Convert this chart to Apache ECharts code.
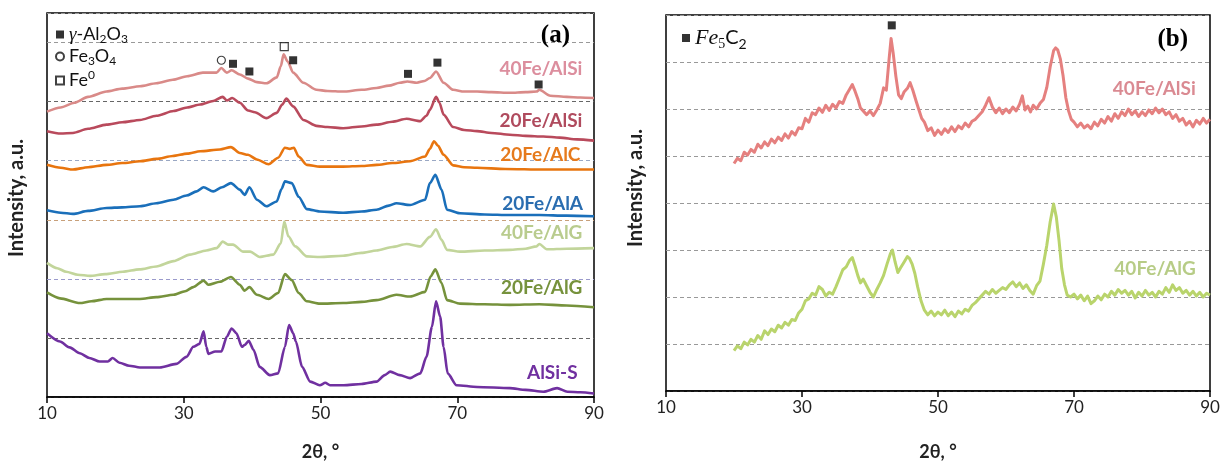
<!DOCTYPE html>
<html>
<head>
<meta charset="utf-8">
<title>XRD patterns</title>
<script src="https://cdn.jsdelivr.net/npm/echarts@6/dist/echarts.min.js"></script>
<style>
  html, body { margin: 0; padding: 0; background: #fff; }
  #chart { width: 1223px; height: 472px; }
</style>
</head>
<body>
<div id="chart"></div>
<script>
// ---- Data: 2θ (deg) vs. offset intensity (a.u.) ----
const xTicks = [10, 30, 50, 70, 90];

// Panel (a)
const s40FeAlSi = [[10,4.83],[12,4.90],[14,4.98],[16,5.08],[18.7,5.17],[21,5.22],[23.6,5.26],[26,5.31],[28.4,5.37],[30.5,5.43],[32.8,5.49],[34.8,5.49],[35.5,5.57],[36.3,5.49],[37.0,5.53],[38.2,5.46],[39.4,5.39],[40.7,5.33],[42.1,5.31],[43.6,5.41],[44.2,5.60],[44.6,5.80],[45.2,5.68],[46.0,5.49],[47.5,5.32],[49.4,5.20],[51,5.18],[53.3,5.17],[56,5.20],[58.2,5.23],[60,5.27],[61.6,5.32],[62.7,5.34],[64.1,5.32],[65.2,5.35],[66.0,5.40],[66.9,5.51],[68.0,5.32],[69.4,5.20],[71,5.17],[72.9,5.17],[75,5.16],[77.7,5.15],[80,5.16],[81.6,5.17],[82.0,5.20],[83.6,5.10],[86,5.08],[88,5.07],[90,5.06]];
const s20FeAlSi = [[10,4.50],[12,4.46],[13.8,4.47],[16,4.54],[18.7,4.61],[21,4.65],[23.6,4.69],[26,4.76],[28.5,4.84],[30.5,4.90],[32.4,4.95],[34.3,5.01],[35.7,5.08],[36.3,5.02],[37.1,5.06],[38.2,4.98],[39.4,4.85],[40.4,4.82],[42.1,4.72],[43.6,4.81],[44.4,4.95],[45.0,5.05],[46.0,4.92],[47.5,4.69],[49.4,4.59],[51,4.57],[53.3,4.55],[56,4.58],[58.2,4.61],[60.5,4.66],[62.6,4.71],[64.6,4.67],[65.5,4.76],[66.0,4.86],[66.9,5.08],[67.4,4.98],[68.0,4.78],[69.4,4.57],[71,4.52],[72.9,4.50],[75,4.47],[77.7,4.44],[80,4.42],[82.6,4.41],[85,4.39],[87.5,4.36],[90,4.34]];
const s20FeAlC = [[10,3.93],[12,3.88],[13.8,3.85],[16,3.89],[18.7,3.93],[21,3.96],[23.6,3.99],[26,4.03],[28.4,4.08],[30.5,4.12],[32.4,4.16],[35.3,4.19],[36.9,4.23],[38.2,4.13],[39.4,4.10],[40.7,4.02],[42.4,3.94],[43.8,4.05],[44.8,4.22],[45.5,4.20],[46.1,4.22],[46.8,4.07],[48.0,3.93],[49.9,3.90],[53.3,3.90],[56,3.91],[58.2,3.93],[60.5,3.96],[63.1,3.99],[65.3,4.07],[66.0,4.20],[66.6,4.33],[67.2,4.25],[68.0,4.10],[69.4,3.92],[71,3.89],[72.9,3.88],[77,3.86],[82.6,3.85],[86,3.85],[90,3.85]];
const s20FeAlA = [[10,3.16],[12,3.12],[13.8,3.10],[16,3.15],[18.7,3.20],[21,3.21],[23.6,3.23],[26,3.28],[28.5,3.34],[30.4,3.41],[31.9,3.48],[32.9,3.55],[34.3,3.48],[35.6,3.55],[36.9,3.62],[38.2,3.51],[38.9,3.42],[39.6,3.55],[40.7,3.34],[42.1,3.23],[43.6,3.31],[44.3,3.52],[44.8,3.65],[45.8,3.62],[46.8,3.39],[48.0,3.18],[49.9,3.14],[53.3,3.12],[56,3.14],[58.2,3.17],[60,3.24],[61.1,3.28],[63.1,3.25],[65.3,3.34],[66.0,3.62],[66.8,3.76],[67.7,3.51],[68.5,3.17],[70.4,3.11],[74,3.09],[77.7,3.08],[82,3.08],[86,3.07],[90,3.06]];
const s40FeAlG = [[10,2.27],[11.5,2.18],[12.8,2.12],[14.5,2.07],[16.3,2.05],[18.5,2.08],[21.1,2.12],[23.5,2.16],[26.0,2.21],[28.5,2.30],[30.9,2.41],[33.3,2.48],[34.8,2.52],[35.7,2.63],[36.5,2.58],[37.2,2.58],[38.7,2.46],[39.7,2.46],[41.1,2.37],[43.1,2.41],[44.2,2.60],[44.7,2.97],[45.3,2.72],[46.3,2.55],[48.0,2.38],[49.9,2.37],[53.3,2.39],[56,2.44],[58.2,2.48],[60.5,2.54],[62.6,2.59],[64.6,2.55],[66.0,2.71],[66.9,2.84],[67.7,2.66],[68.5,2.49],[70.4,2.46],[74,2.48],[77.7,2.49],[80,2.51],[81.6,2.55],[82.0,2.59],[83.1,2.50],[86,2.51],[90,2.52]];
const s20FeAlG = [[10,1.77],[11.9,1.67],[14.8,1.59],[16.5,1.62],[18.7,1.66],[21,1.66],[23.6,1.66],[26,1.69],[28.5,1.73],[30.2,1.79],[31.4,1.86],[32.9,1.97],[33.6,1.90],[35.3,1.95],[36.9,2.03],[38.2,1.90],[38.9,1.80],[39.6,1.86],[40.7,1.73],[42.4,1.66],[43.8,1.76],[44.8,2.08],[45.8,1.98],[46.8,1.76],[48.0,1.62],[49.9,1.58],[53.3,1.59],[56,1.61],[58.2,1.64],[61.1,1.73],[63.1,1.70],[65.3,1.78],[66.1,2.04],[66.8,2.16],[67.7,1.93],[68.5,1.64],[70.4,1.58],[74,1.57],[77.7,1.56],[82,1.57],[86,1.55],[90,1.52]];
const sAlSiS = [[10,1.08],[11.9,0.94],[13.3,0.84],[14.8,0.74],[16.2,0.66],[17.7,0.60],[18.9,0.60],[19.6,0.66],[20.6,0.58],[22,0.53],[23.6,0.50],[26.5,0.50],[28.9,0.56],[30.4,0.68],[31.4,0.85],[32.3,0.90],[32.9,1.11],[33.3,0.85],[33.6,0.73],[34.6,0.77],[35.5,0.77],[36.3,1.02],[37.0,1.16],[37.7,1.08],[38.5,0.85],[38.9,0.88],[39.5,0.95],[40.2,0.80],[41.1,0.51],[42.6,0.37],[43.8,0.40],[44.8,0.85],[45.4,1.22],[46.0,1.08],[46.4,0.94],[47.3,0.51],[48.5,0.26],[49.9,0.20],[50.7,0.24],[51.4,0.20],[53.4,0.20],[56,0.22],[58.2,0.26],[59.4,0.37],[60.2,0.43],[61.6,0.37],[63.1,0.32],[64.6,0.40],[65.5,0.68],[66.3,1.19],[66.9,1.62],[67.5,1.36],[68.0,0.85],[68.6,0.40],[69.9,0.20],[72.9,0.17],[77.7,0.15],[80,0.12],[82.6,0.09],[84.6,0.15],[86.1,0.09],[88,0.08],[90,0.06]];

// Phase reflections marked in panel (a)
const gammaAl2O3Peaks = [[37.2,5.64],[39.6,5.51],[46.0,5.70],[62.8,5.47],[67.1,5.66],[81.9,5.29]];
const fe3o4Peaks = [[35.5,5.70]];
const fe0Peaks = [[44.7,5.93]];

// Panel (b)
const b40FeAlSi = [[20.0,4.84],[20.5,4.95],[21.0,4.90],[21.5,5.08],[22.0,5.02],[22.5,5.14],[23.0,5.08],[23.5,5.25],[24.0,5.17],[24.5,5.30],[25.0,5.22],[25.5,5.36],[26.0,5.28],[26.5,5.40],[27.0,5.33],[27.5,5.47],[28.0,5.38],[28.5,5.52],[29.0,5.45],[29.5,5.60],[30.0,5.58],[30.5,5.80],[31.0,5.72],[31.5,5.92],[32.0,5.88],[32.5,6.02],[33.0,5.93],[33.5,6.08],[34.0,5.97],[34.5,6.10],[35.0,6.02],[35.5,6.16],[36.0,6.12],[36.5,6.30],[37.0,6.42],[37.4,6.52],[37.8,6.38],[38.2,6.22],[38.6,6.02],[39.0,5.96],[39.5,5.88],[40.0,5.96],[40.5,5.86],[41.0,5.98],[41.5,6.12],[42.0,6.45],[42.4,6.40],[42.8,7.05],[43.1,7.50],[43.4,7.20],[43.8,6.70],[44.2,6.30],[44.6,6.22],[45.0,6.36],[45.5,6.44],[45.9,6.56],[46.3,6.40],[46.8,6.16],[47.2,5.98],[47.6,5.80],[48.0,5.72],[48.5,5.54],[49.0,5.60],[49.5,5.44],[50.0,5.55],[50.5,5.46],[51.0,5.58],[51.5,5.50],[52.0,5.62],[52.5,5.52],[53.0,5.64],[53.5,5.58],[54.0,5.70],[54.5,5.62],[55.0,5.74],[55.5,5.78],[56.0,5.86],[56.5,5.94],[57.0,6.08],[57.5,6.24],[58.0,6.04],[58.5,5.92],[59.0,6.02],[59.5,5.90],[60.0,6.00],[60.5,5.92],[61.0,6.04],[61.5,5.96],[62.0,6.10],[62.4,6.28],[62.8,5.98],[63.2,6.06],[63.6,5.94],[64.0,6.08],[64.5,6.00],[65.0,6.12],[65.5,6.20],[66.0,6.46],[66.5,6.90],[67.0,7.24],[67.3,7.30],[67.6,7.26],[68.0,7.06],[68.4,6.70],[68.8,6.24],[69.2,5.96],[69.6,5.78],[70.0,5.72],[70.5,5.62],[71.0,5.70],[71.5,5.60],[72.0,5.66],[72.5,5.58],[73.0,5.72],[73.5,5.64],[74.0,5.78],[74.5,5.70],[75.0,5.84],[75.5,5.74],[76.0,5.90],[76.5,5.80],[77.0,5.94],[77.5,5.86],[78.0,6.00],[78.5,5.88],[79.0,5.96],[79.5,5.84],[80.0,5.94],[80.5,5.86],[81.0,5.98],[81.5,5.90],[82.0,6.02],[82.5,5.92],[83.0,6.00],[83.5,5.88],[84.0,5.94],[84.5,5.80],[85.0,5.88],[85.5,5.74],[86.0,5.80],[86.5,5.66],[87.0,5.74],[87.5,5.62],[88.0,5.76],[88.5,5.68],[89.0,5.80],[89.5,5.70],[90.0,5.78]];
const b40FeAlG = [[20.0,0.86],[20.5,0.96],[21.0,0.90],[21.5,1.04],[22.0,0.98],[22.5,1.10],[23.0,1.04],[23.5,1.18],[24.0,1.10],[24.5,1.28],[25.0,1.20],[25.5,1.32],[26.0,1.26],[26.5,1.40],[27.0,1.34],[27.5,1.46],[28.0,1.40],[28.5,1.52],[29.0,1.50],[29.5,1.66],[30.0,1.74],[30.5,1.92],[31.0,1.96],[31.5,2.08],[32.0,2.04],[32.5,2.22],[33.0,2.16],[33.5,2.02],[34.0,2.10],[34.5,2.06],[35.0,2.22],[35.5,2.40],[36.0,2.58],[36.5,2.64],[37.0,2.78],[37.4,2.84],[37.8,2.66],[38.2,2.46],[38.6,2.30],[39.0,2.38],[39.5,2.24],[40.0,2.10],[40.5,2.00],[41.0,2.16],[41.5,2.30],[42.0,2.46],[42.5,2.70],[43.0,2.92],[43.3,3.00],[43.7,2.74],[44.1,2.52],[44.5,2.62],[45.0,2.74],[45.5,2.86],[45.8,2.82],[46.2,2.70],[46.6,2.50],[47.0,2.22],[47.5,1.92],[48.0,1.72],[48.5,1.62],[49.0,1.70],[49.5,1.60],[50.0,1.68],[50.5,1.62],[51.0,1.72],[51.5,1.60],[52.0,1.68],[52.5,1.58],[53.0,1.70],[53.5,1.64],[54.0,1.74],[54.5,1.70],[55.0,1.82],[55.5,1.88],[56.0,1.96],[56.5,2.04],[57.0,2.12],[57.5,2.06],[58.0,2.16],[58.5,2.08],[59.0,2.14],[59.5,2.20],[60.0,2.16],[60.5,2.26],[61.0,2.32],[61.5,2.22],[62.0,2.30],[62.5,2.18],[63.0,2.26],[63.5,2.14],[64.0,2.06],[64.5,2.24],[65.0,2.34],[65.5,2.70],[66.0,3.10],[66.5,3.60],[67.0,3.98],[67.4,3.70],[67.8,3.20],[68.2,2.60],[68.6,2.26],[69.0,2.04],[69.5,2.00],[70.0,2.06],[70.5,1.96],[71.0,2.04],[71.5,1.92],[72.0,2.02],[72.5,1.86],[73.0,1.92],[73.5,2.02],[74.0,1.94],[74.5,2.06],[75.0,2.00],[75.5,2.12],[76.0,2.04],[76.5,2.16],[77.0,2.08],[77.5,2.14],[78.0,2.04],[78.5,2.12],[79.0,1.98],[79.5,2.10],[80.0,2.02],[80.5,2.14],[81.0,2.04],[81.5,2.10],[82.0,2.00],[82.5,2.12],[83.0,2.06],[83.5,2.20],[84.0,2.10],[84.5,2.26],[85.0,2.14],[85.5,2.20],[86.0,2.08],[86.5,2.14],[87.0,2.04],[87.5,2.12],[88.0,2.02],[88.5,2.10],[89.0,2.00],[89.5,2.08],[90.0,2.04]];
const fe5c2Peaks = [[43.2,7.78]];

// Sample names
const namesA = ['40Fe/AlSi', '20Fe/AlSi', '20Fe/AlC', '20Fe/AlA', '40Fe/AlG', '20Fe/AlG', 'AlSi-S'];
const namesB = ['40Fe/AlSi', '40Fe/AlG'];
const xTitle = '2θ, °';
const yTitle = 'Intensity, a.u.';

// ---- Styling ----
const seriesA = [s40FeAlSi, s20FeAlSi, s20FeAlC, s20FeAlA, s40FeAlG, s20FeAlG, sAlSiS];
const seriesB = [b40FeAlSi, b40FeAlG];
const lineColorsA = ['#d98a88', '#b94a5c', '#e8750f', '#1a6fba', '#c2d59b', '#76923c', '#7030a0'];
const labelColorsA = ['#dc8e9e', '#b04b5e', '#e67a1c', '#2a6db0', '#b9cc8e', '#76923c', '#7030a0'];
const lineColorsB = ['#e5807f', '#b9d46c'];
const labelColorsB = ['#da8a92', '#b7cc86'];
// where each sample name sits, in data coordinates (right edge, centre line)
const labelAnchorA = [[88.3,5.55],[88.3,4.67],[88.0,4.10],[88.4,3.27],[88.3,2.78],[88.3,1.85],[87.6,0.41]];
const labelAnchorB = [[87.9,6.42],[87.9,2.60]];
// vertical centre of each y-axis title (px)
const yTitleCentre = [198, 188];

const sansFont = 'Lato, "Open Sans", sans-serif';
const serifFont = '"Liberation Serif", "DejaVu Serif", serif';

const subRich = {
  n:   { fontSize: 18, fontFamily: sansFont, color: '#111', lineHeight: 22 },
  g:   { fontSize: 19, fontFamily: serifFont, fontStyle: 'italic', color: '#111', lineHeight: 22 },
  sub: { fontSize: 12, fontFamily: sansFont, color: '#111', lineHeight: 10, verticalAlign: 'bottom' },
  sup: { fontSize: 12, fontFamily: sansFont, color: '#111', lineHeight: 10, verticalAlign: 'top' },
  fe:  { fontSize: 22, fontFamily: serifFont, fontStyle: 'italic', color: '#111', lineHeight: 26 },
  fes: { fontSize: 14, fontFamily: serifFont, color: '#111', lineHeight: 12, verticalAlign: 'bottom' },
  c:   { fontSize: 20, fontFamily: sansFont, color: '#111', lineHeight: 26 },
  csub:{ fontSize: 14, fontFamily: sansFont, color: '#111', lineHeight: 12, verticalAlign: 'bottom' }
};
const legendText = {
  'γ-Al2O3': '{g|γ}{n|-Al}{sub|2}{n|O}{sub|3}',
  'Fe3O4': '{n|Fe}{sub|3}{n|O}{sub|4}',
  'Fe0': '{n|Fe}{sup|0}',
  'Fe5C2': '{fe|Fe}{fes|5}{c|C}{csub|2}'
};

function xAxisFor(gridIndex) {
  return {
    type: 'value', gridIndex, min: 10, max: 90,
    axisLine: { show: true, lineStyle: { color: '#000', width: 1.5 } },
    axisTick: { show: true, inside: false, length: 6, customValues: xTicks, lineStyle: { color: '#000', width: 1.5 } },
    axisLabel: { show: true, customValues: xTicks, margin: 8, fontSize: 17, fontFamily: sansFont, color: '#222' },
    splitLine: { show: false }
  };
}
function yAxisFor(gridIndex, max, gridColors) {
  return {
    type: 'value', gridIndex, min: 0, max, interval: 1,
    axisLine: { show: false }, axisTick: { show: false }, axisLabel: { show: false },
    splitLine: { show: true, lineStyle: { color: gridColors, type: [4, 3], width: 1 } }
  };
}

const lineSeries = [];
seriesA.forEach((d, i) => lineSeries.push({
  type: 'line', name: namesA[i], xAxisIndex: 0, yAxisIndex: 0, data: d,
  showSymbol: false, smooth: 0.25, smoothMonotone: 'x', clip: true,
  lineStyle: { color: lineColorsA[i], width: 2.6 }, z: 3
}));
seriesB.forEach((d, i) => lineSeries.push({
  type: 'line', name: 'b-' + namesB[i], xAxisIndex: 1, yAxisIndex: 1, data: d,
  showSymbol: false, smooth: false, clip: true,
  lineStyle: { color: lineColorsB[i], width: 3, join: 'round' }, z: 3
}));

const markerSeries = [
  { type: 'scatter', name: 'γ-Al2O3', xAxisIndex: 0, yAxisIndex: 0, data: gammaAl2O3Peaks,
    symbol: 'rect', symbolSize: 8, itemStyle: { color: '#000' }, z: 5 },
  { type: 'scatter', name: 'Fe3O4', xAxisIndex: 0, yAxisIndex: 0, data: fe3o4Peaks,
    symbol: 'circle', symbolSize: 8, itemStyle: { color: '#fff', borderColor: '#111', borderWidth: 1.2 }, z: 5 },
  { type: 'scatter', name: 'Fe0', xAxisIndex: 0, yAxisIndex: 0, data: fe0Peaks,
    symbol: 'rect', symbolSize: 8, itemStyle: { color: '#fff', borderColor: '#111', borderWidth: 1.2 }, z: 5 },
  { type: 'scatter', name: 'Fe5C2', xAxisIndex: 1, yAxisIndex: 1, data: fe5c2Peaks,
    symbol: 'rect', symbolSize: 8, itemStyle: { color: '#000' }, z: 5 }
];

const gridA = { left: 47, top: 13, width: 547, height: 384 };
const gridB = { left: 666, top: 15, width: 544, height: 376 };

const option = {
  animation: false,
  backgroundColor: '#fff',
  grid: [
    Object.assign({ show: true, borderColor: '#000', borderWidth: 1.5, backgroundColor: 'transparent' }, gridA),
    Object.assign({ show: true, borderColor: '#000', borderWidth: 1.5, backgroundColor: 'transparent' }, gridB)
  ],
  xAxis: [xAxisFor(0), xAxisFor(1)],
  yAxis: [
    yAxisFor(0, 6.5, ['#666', '#666', '#9a9acc', '#c8a07a', '#9aa8c4', '#666', '#999', '#999']),
    yAxisFor(1, 8, ['#999'])
  ],
  legend: [
    { data: ['γ-Al2O3', 'Fe3O4', 'Fe0'], orient: 'vertical', left: 50, top: 20, itemGap: 2,
      itemWidth: 8, itemHeight: 8, selectedMode: false,
      formatter: n => legendText[n], textStyle: { rich: subRich } },
    { data: ['Fe5C2'], orient: 'vertical', left: 677, top: 22, itemGap: 0,
      itemWidth: 8, itemHeight: 8, selectedMode: false,
      formatter: n => legendText[n], textStyle: { rich: subRich } }
  ],
  series: lineSeries.concat(markerSeries)
};

const chart = echarts.init(document.getElementById('chart'), null, { renderer: 'canvas' });
chart.setOption(option);

// Sample names beside the curves, axis titles and panel tags
const graphics = [];
namesA.forEach((t, i) => {
  const p = chart.convertToPixel({ gridIndex: 0 }, labelAnchorA[i]);
  graphics.push({ type: 'text', x: p[0], y: p[1], z: 10,
    style: { text: t, align: 'right', verticalAlign: 'middle', fill: labelColorsA[i],
      font: 'bold 19px ' + sansFont } });
});
namesB.forEach((t, i) => {
  const p = chart.convertToPixel({ gridIndex: 1 }, labelAnchorB[i]);
  graphics.push({ type: 'text', x: p[0], y: p[1], z: 10,
    style: { text: t, align: 'right', verticalAlign: 'middle', fill: labelColorsB[i],
      font: 'bold 19px ' + sansFont } });
});
[gridA, gridB].forEach((g, i) => {
  graphics.push({ type: 'text', x: g.left + g.width / 2, y: 452, z: 10,
    style: { text: xTitle, align: 'center', verticalAlign: 'middle', fill: '#222', font: 'bold 18px ' + sansFont } });
  graphics.push({ type: 'text', x: g.left - 30, y: yTitleCentre[i], rotation: Math.PI / 2, z: 10,
    style: { text: yTitle, align: 'center', verticalAlign: 'middle', fill: '#222', font: 'bold 20px ' + sansFont } });
});
graphics.push({ type: 'text', x: 570, y: 36, z: 10,
  style: { text: '(a)', align: 'right', verticalAlign: 'middle', fill: '#000', font: 'bold 25px ' + serifFont } });
graphics.push({ type: 'text', x: 1188, y: 40, z: 10,
  style: { text: '(b)', align: 'right', verticalAlign: 'middle', fill: '#000', font: 'bold 25px ' + serifFont } });
chart.setOption({ graphic: graphics });
</script>
</body>
</html>
